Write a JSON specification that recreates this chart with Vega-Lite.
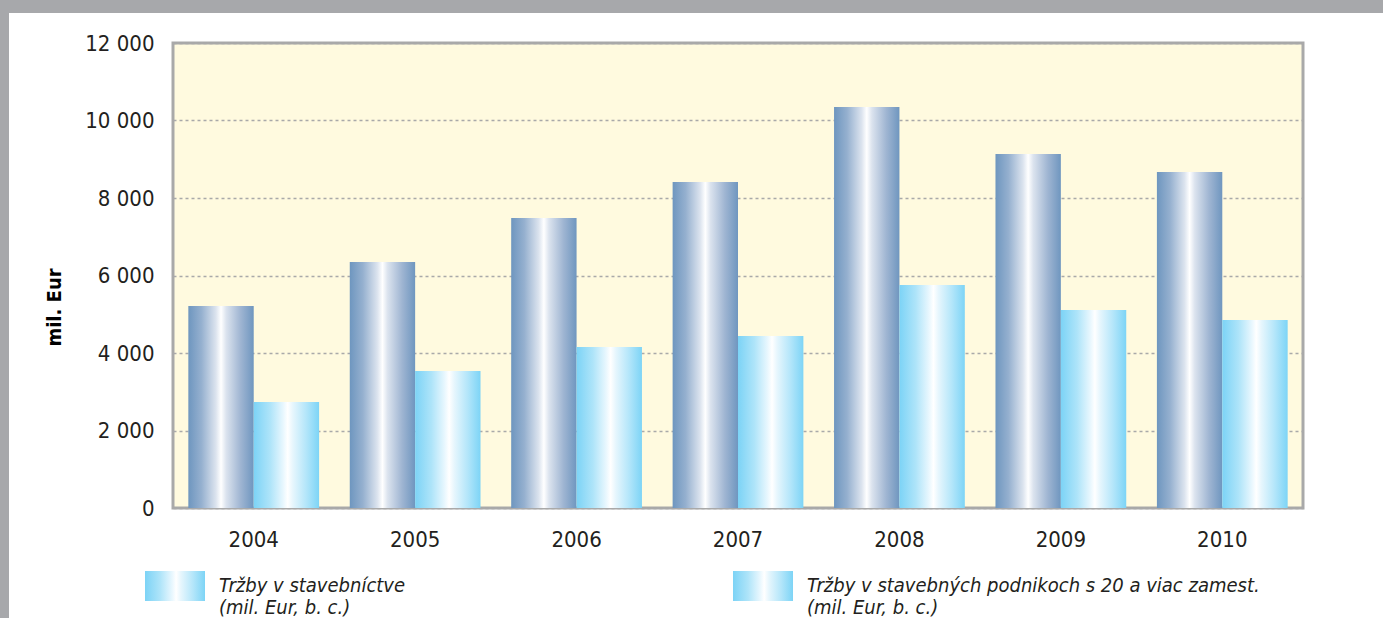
{
  "$schema": "https://vega.github.io/schema/vega-lite/v6.json",
  "background": "white",
  "padding": 0,
  "spacing": 0,
  "config": {
    "font": "DejaVu Sans Condensed",
    "title": {"font": "DejaVu Sans Condensed"}
  },
  "hconcat": [
    {
      "width": 9,
      "height": 618,
      "view": {"fill": "#a7a8ab", "stroke": null},
      "data": {"values": []},
      "mark": {"type": "rect", "opacity": 0},
      "encoding": {}
    },
    {
      "spacing": 17,
      "vconcat": [
        {
          "width": 1374,
          "height": 13,
          "view": {"fill": "#a7a8ab", "stroke": null},
          "data": {"values": []},
          "mark": {"type": "rect", "opacity": 0},
          "encoding": {}
        },
        {
          "spacing": 32,
          "hconcat": [
            {
              "width": 1,
              "height": 1,
              "view": {"fill": null, "stroke": null},
              "data": {"values": []},
              "mark": {"type": "rect", "opacity": 0},
              "encoding": {}
            },
            {
              "width": 1130,
              "height": 465,
              "view": {"fill": "#fffadf", "stroke": "#a9a9a9", "strokeWidth": 3},
              "data": {
                "values": [
                  {"year": "2004", "series": "Tržby v stavebníctve (mil. Eur, b. c.)", "value": 5210},
                  {"year": "2004", "series": "Tržby v stavebných podnikoch s 20 a viac zamest. (mil. Eur, b. c.)", "value": 2735},
                  {"year": "2005", "series": "Tržby v stavebníctve (mil. Eur, b. c.)", "value": 6350},
                  {"year": "2005", "series": "Tržby v stavebných podnikoch s 20 a viac zamest. (mil. Eur, b. c.)", "value": 3535},
                  {"year": "2006", "series": "Tržby v stavebníctve (mil. Eur, b. c.)", "value": 7485},
                  {"year": "2006", "series": "Tržby v stavebných podnikoch s 20 a viac zamest. (mil. Eur, b. c.)", "value": 4155},
                  {"year": "2007", "series": "Tržby v stavebníctve (mil. Eur, b. c.)", "value": 8415},
                  {"year": "2007", "series": "Tržby v stavebných podnikoch s 20 a viac zamest. (mil. Eur, b. c.)", "value": 4440},
                  {"year": "2008", "series": "Tržby v stavebníctve (mil. Eur, b. c.)", "value": 10350},
                  {"year": "2008", "series": "Tržby v stavebných podnikoch s 20 a viac zamest. (mil. Eur, b. c.)", "value": 5755},
                  {"year": "2009", "series": "Tržby v stavebníctve (mil. Eur, b. c.)", "value": 9135},
                  {"year": "2009", "series": "Tržby v stavebných podnikoch s 20 a viac zamest. (mil. Eur, b. c.)", "value": 5110},
                  {"year": "2010", "series": "Tržby v stavebníctve (mil. Eur, b. c.)", "value": 8670},
                  {"year": "2010", "series": "Tržby v stavebných podnikoch s 20 a viac zamest. (mil. Eur, b. c.)", "value": 4850}
                ]
              },
              "mark": {"type": "bar"},
              "encoding": {
                "x": {
                  "field": "year",
                  "type": "ordinal",
                  "scale": {"paddingInner": 0.19, "paddingOuter": 0.095},
                  "axis": {
                    "title": null,
                    "labelAngle": 0,
                    "ticks": false,
                    "domain": false,
                    "labelPadding": 21,
                    "labelFont": "DejaVu Sans Condensed",
                    "labelFontSize": 22,
                    "labelColor": "#231f20"
                  }
                },
                "xOffset": {
                  "field": "series",
                  "type": "nominal",
                  "scale": {
                    "domain": ["Tržby v stavebníctve (mil. Eur, b. c.)", "Tržby v stavebných podnikoch s 20 a viac zamest. (mil. Eur, b. c.)"],
                    "paddingInner": 0,
                    "paddingOuter": 0
                  }
                },
                "y": {
                  "field": "value",
                  "type": "quantitative",
                  "scale": {"domain": [0, 12000], "nice": false},
                  "axis": {
                    "title": "mil. Eur",
                    "titleFont": "DejaVu Sans Condensed",
                    "titleFontWeight": "bold",
                    "titleFontSize": 20,
                    "titleColor": "#000000",
                    "titlePadding": 24,
                    "titleY": 264,
                    "minExtent": 85,
                    "maxExtent": 85,
                    "values": [0, 2000, 4000, 6000, 8000, 10000, 12000],
                    "labelExpr": "replace(format(datum.value, ','), ',', ' ')",
                    "labelFont": "DejaVu Sans Condensed",
                    "labelFontSize": 22,
                    "labelColor": "#231f20",
                    "labelPadding": 19,
                    "ticks": false,
                    "domain": false,
                    "grid": true,
                    "gridColor": "#a9a9a9",
                    "gridDash": [3, 3],
                    "gridWidth": 1.5
                  }
                },
                "fill": {
                  "condition": {
                    "test": "datum.series === 'Tržby v stavebníctve (mil. Eur, b. c.)'",
                    "value": {"gradient": "linear", "x1": 0, "y1": 0, "x2": 1, "y2": 0, "stops": [
                      {"offset": 0, "color": "#6e96bf"},
                      {"offset": 0.2, "color": "#95b0cf"},
                      {"offset": 0.42, "color": "#dbe3ee"},
                      {"offset": 0.5, "color": "#ffffff"},
                      {"offset": 0.58, "color": "#dbe3ee"},
                      {"offset": 0.8, "color": "#9fb5d2"},
                      {"offset": 1, "color": "#6f96bf"}
                    ]}
                  },
                  "value": {"gradient": "linear", "x1": 0, "y1": 0, "x2": 1, "y2": 0, "stops": [
                    {"offset": 0, "color": "#7cd3f6"},
                    {"offset": 0.25, "color": "#aee4f9"},
                    {"offset": 0.45, "color": "#e8f7fe"},
                    {"offset": 0.52, "color": "#ffffff"},
                    {"offset": 0.6, "color": "#e6f6fd"},
                    {"offset": 0.8, "color": "#b4e6fa"},
                    {"offset": 1, "color": "#7dd4f6"}
                  ]}
                },
                "opacity": {
                  "field": "series",
                  "type": "ordinal",
                  "scale": {
                    "domain": ["Tržby v stavebníctve (mil. Eur, b. c.)", "Tržby v stavebných podnikoch s 20 a viac zamest. (mil. Eur, b. c.)"],
                    "range": [1, 1]
                  },
                  "legend": {
                    "title": null,
                    "orient": "none",
                    "legendX": 145,
                    "legendY": 556,
                    "direction": "horizontal",
                    "columns": 2,
                    "columnPadding": 327,
                    "symbolType": "M-1,-0.5H1V0.5H-1Z",
                    "symbolSize": 3600,
                    "symbolStrokeWidth": 0,
                    "labelFont": "DejaVu Sans Condensed",
                    "labelFontStyle": "italic",
                    "labelFontSize": 20,
                    "labelColor": "#231f20",
                    "labelOffset": 14,
                    "labelLimit": 800,
                    "labelExpr": "[slice(datum.label, 0, indexof(datum.label, ' (')), slice(datum.label, indexof(datum.label, ' (') + 1)]",
                    "encode": {
                      "symbols": {
                        "update": {
                          "opacity": {"value": 1},
                          "fill": [
                            {
                              "test": "datum.value === 'Tržby v stavebníctve (mil. Eur, b. c.)'",
                              "value": {"gradient": "linear", "x1": 0, "y1": 0, "x2": 1, "y2": 0, "stops": [
                                {"offset": 0, "color": "#6e96bf"},
                                {"offset": 0.2, "color": "#95b0cf"},
                                {"offset": 0.42, "color": "#dbe3ee"},
                                {"offset": 0.5, "color": "#ffffff"},
                                {"offset": 0.58, "color": "#dbe3ee"},
                                {"offset": 0.8, "color": "#9fb5d2"},
                                {"offset": 1, "color": "#6f96bf"}
                              ]}
                            },
                            {
                              "value": {"gradient": "linear", "x1": 0, "y1": 0, "x2": 1, "y2": 0, "stops": [
                                {"offset": 0, "color": "#7cd3f6"},
                                {"offset": 0.25, "color": "#aee4f9"},
                                {"offset": 0.45, "color": "#e8f7fe"},
                                {"offset": 0.52, "color": "#ffffff"},
                                {"offset": 0.6, "color": "#e6f6fd"},
                                {"offset": 0.8, "color": "#b4e6fa"},
                                {"offset": 1, "color": "#7dd4f6"}
                              ]}
                            }
                          ]
                        }
                      },
                      "labels": {"update": {"lineHeight": {"value": 23}, "dy": {"value": -10}}}
                    }
                  }
                }
              }
            }
          ]
        }
      ]
    }
  ]
}
